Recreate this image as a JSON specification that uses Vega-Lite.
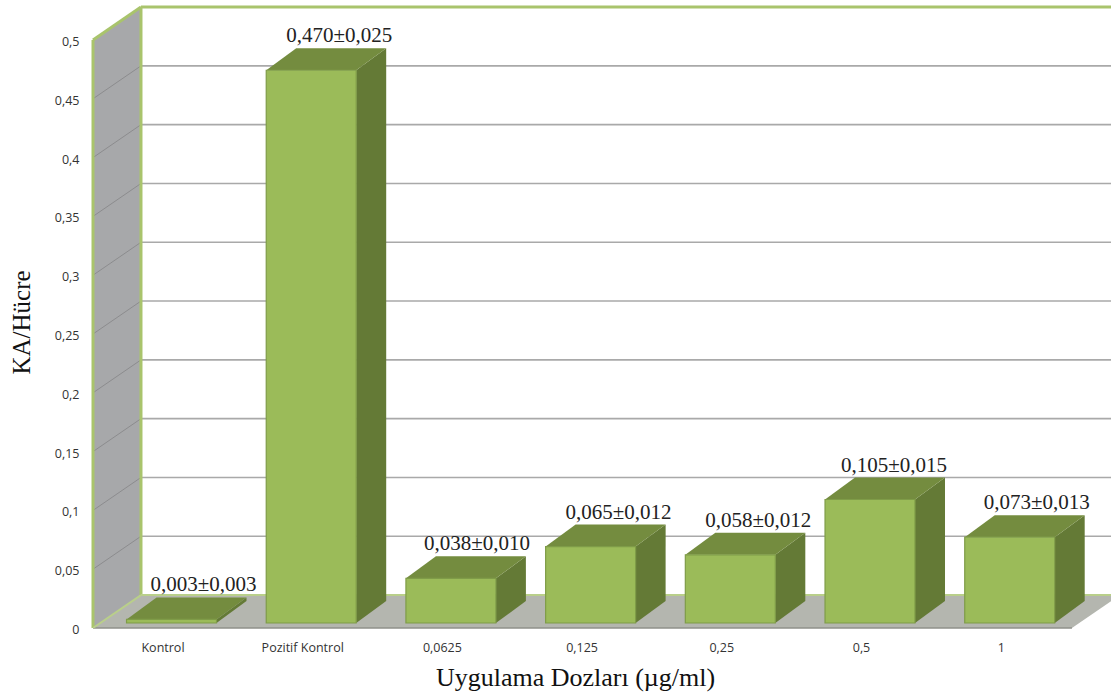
{
  "$schema": "https://vega.github.io/schema/vega-lite/v6.json",
  "width": 1018,
  "height": 628,
  "autosize": "none",
  "padding": {"left": 93, "top": 0, "right": 0, "bottom": 67},
  "background": "white",
  "config": {"view": {"stroke": null}},
  "datasets": {
    "doses": [
      {"dose": "Kontrol", "value": 0.003, "sd": 0.003, "label": "0,003±0,003"},
      {"dose": "Pozitif Kontrol", "value": 0.47, "sd": 0.025, "label": "0,470±0,025"},
      {"dose": "0,0625", "value": 0.038, "sd": 0.01, "label": "0,038±0,010"},
      {"dose": "0,125", "value": 0.065, "sd": 0.012, "label": "0,065±0,012"},
      {"dose": "0,25", "value": 0.058, "sd": 0.012, "label": "0,058±0,012"},
      {"dose": "0,5", "value": 0.105, "sd": 0.015, "label": "0,105±0,015"},
      {"dose": "1", "value": 0.073, "sd": 0.013, "label": "0,073±0,013"}
    ],
    "gridValues": [
      {"tick": 0.05}, {"tick": 0.1}, {"tick": 0.15}, {"tick": 0.2}, {"tick": 0.25},
      {"tick": 0.3}, {"tick": 0.35}, {"tick": 0.4}, {"tick": 0.45}
    ],
    "corners": [{"corner": 0}, {"corner": 1}, {"corner": 2}, {"corner": 3}]
  },
  "encoding": {
    "x": {
      "field": "x",
      "type": "quantitative",
      "scale": {"domain": [-0.4975, 6.7895], "nice": false, "zero": false},
      "axis": {
        "values": [0, 1, 2, 3, 4, 5, 6],
        "labelExpr": "['Kontrol','Pozitif Kontrol','0,0625','0,125','0,25','0,5','1'][datum.value]",
        "grid": false,
        "domain": false,
        "ticks": false,
        "labelFont": "Open Sans",
        "labelFontSize": 12.5,
        "labelColor": "#333333",
        "labelPadding": 13,
        "labelFlush": false,
        "title": "Uygulama Dozları (µg/ml)",
        "titleFont": "Liberation Serif",
        "titleFontSize": 26,
        "titleFontWeight": "normal",
        "titleColor": "#111111",
        "titleX": 482,
        "titleY": 36
      }
    },
    "y": {
      "field": "y",
      "type": "quantitative",
      "stack": null,
      "scale": {"domain": [0, 0.534], "nice": false, "zero": false},
      "axis": {
        "values": [0, 0.05, 0.1, 0.15, 0.2, 0.25, 0.3, 0.35, 0.4, 0.45, 0.5],
        "labelExpr": "replace(format(datum.value, '~g'), '.', ',')",
        "grid": false,
        "domain": false,
        "ticks": false,
        "labelFont": "Open Sans",
        "labelFontSize": 12.5,
        "labelColor": "#333333",
        "labelPadding": 14,
        "labelOffset": 1.5,
        "title": "KA/Hücre",
        "titleFont": "Liberation Serif",
        "titleFontSize": 25,
        "titleFontWeight": "normal",
        "titleColor": "#111111",
        "titleAngle": -90,
        "titleX": -59,
        "titleY": 322
      }
    }
  },
  "layer": [
    {
      "description": "Left wall of the 3D frame",
      "data": {"name": "corners"},
      "transform": [
        {"filter": "datum.corner < 2"},
        {"calculate": "[-0.4975, -0.154][datum.corner]", "as": "x"},
        {"calculate": "[0, 0.028][datum.corner]", "as": "y"},
        {"calculate": "[0.5, 0.528][datum.corner]", "as": "top"}
      ],
      "mark": {"type": "area", "orient": "vertical", "color": "#a7a8aa"},
      "encoding": {"y2": {"field": "top"}}
    },
    {
      "description": "Gridlines on the back wall",
      "data": {"name": "gridValues"},
      "transform": [
        {"calculate": "-0.154", "as": "x"},
        {"calculate": "6.7895", "as": "xEnd"},
        {"calculate": "datum.tick + 0.028", "as": "y"}
      ],
      "mark": {"type": "rule", "color": "#a9a9a9", "strokeWidth": 1.6},
      "encoding": {"x2": {"field": "xEnd"}}
    },
    {
      "description": "Gridlines running across the left wall",
      "data": {"name": "gridValues"},
      "transform": [
        {"calculate": "-0.4975", "as": "x"},
        {"calculate": "-0.154", "as": "xEnd"},
        {"calculate": "datum.tick", "as": "y"},
        {"calculate": "datum.tick + 0.028", "as": "yEnd"}
      ],
      "mark": {"type": "rule", "color": "#8c8c8e", "strokeWidth": 1},
      "encoding": {"x2": {"field": "xEnd"}, "y2": {"field": "yEnd"}}
    },
    {
      "description": "Floor of the 3D frame",
      "data": {"name": "corners"},
      "transform": [
        {"calculate": "[-0.4975, -0.154, 6.51, 6.854][datum.corner]", "as": "x"},
        {"calculate": "[0, 0, 0, 0.028][datum.corner]", "as": "y"},
        {"calculate": "[0, 0.028, 0.028, 0.028][datum.corner]", "as": "upper"}
      ],
      "mark": {"type": "area", "orient": "vertical", "color": "#b4b6af", "clip": true},
      "encoding": {"y2": {"field": "upper"}}
    },
    {
      "description": "Front edge of the floor",
      "data": {"name": "corners"},
      "transform": [
        {"filter": "datum.corner == 0"},
        {"calculate": "-0.4975", "as": "x"},
        {"calculate": "6.51", "as": "xEnd"},
        {"calculate": "0", "as": "y"}
      ],
      "mark": {"type": "rule", "color": "#8f918a", "strokeWidth": 1.6},
      "encoding": {"x2": {"field": "xEnd"}}
    },
    {
      "description": "Green outline of the frame: wall edges, wall top, back wall top",
      "data": {"name": "corners"},
      "transform": [
        {"calculate": "[-0.4975, -0.154, -0.154, -0.4975][datum.corner]", "as": "x"},
        {"calculate": "[-0.4975, -0.154, 6.7895, -0.154][datum.corner]", "as": "xEnd"},
        {"calculate": "[0, 0.028, 0.528, 0.5][datum.corner]", "as": "y"},
        {"calculate": "[0.5, 0.528, 0.528, 0.528][datum.corner]", "as": "yEnd"}
      ],
      "mark": {"type": "rule", "color": "#a9c46c", "strokeWidth": 3},
      "encoding": {"x2": {"field": "xEnd"}, "y2": {"field": "yEnd"}}
    },
    {
      "description": "Back edge and inner corner of the floor",
      "data": {"name": "corners"},
      "transform": [
        {"filter": "datum.corner < 2"},
        {"calculate": "[-0.4975, -0.154][datum.corner]", "as": "x"},
        {"calculate": "[-0.154, 6.7895][datum.corner]", "as": "xEnd"},
        {"calculate": "[0, 0.028][datum.corner]", "as": "y"},
        {"calculate": "0.028", "as": "yEnd"}
      ],
      "mark": {"type": "rule", "color": "#b9cf8a", "strokeWidth": 2},
      "encoding": {"x2": {"field": "xEnd"}, "y2": {"field": "yEnd"}}
    },
    {
      "description": "Right side face of each bar",
      "data": {"name": "doses"},
      "transform": [
        {"window": [{"op": "row_number", "as": "n"}]},
        {"calculate": "[0, 1]", "as": "corner"},
        {"flatten": ["corner"]},
        {"calculate": "datum.n - 1 + 0.0645 + 0.322 + datum.corner * 0.2148", "as": "x"},
        {"calculate": "0.00425 + datum.corner * 0.0187", "as": "y"},
        {"calculate": "0.00425 + datum.value + datum.corner * 0.0187", "as": "upper"}
      ],
      "mark": {"type": "area", "orient": "vertical", "color": "#647a36"},
      "encoding": {"y2": {"field": "upper"}, "detail": {"field": "dose"}}
    },
    {
      "description": "Top face of each bar",
      "data": {"name": "doses"},
      "transform": [
        {"window": [{"op": "row_number", "as": "n"}]},
        {"calculate": "[0, 1, 2, 3]", "as": "corner"},
        {"flatten": ["corner"]},
        {"calculate": "datum.n - 1 + 0.0645 - 0.322 + [0, 0.2148, 0.644, 0.8588][datum.corner]", "as": "x"},
        {"calculate": "0.00425 + datum.value + [0, 0, 0, 0.0187][datum.corner]", "as": "y"},
        {"calculate": "0.00425 + datum.value + [0, 0.0187, 0.0187, 0.0187][datum.corner]", "as": "upper"}
      ],
      "mark": {"type": "area", "orient": "vertical", "color": "#748c3f"},
      "encoding": {"y2": {"field": "upper"}, "detail": {"field": "dose"}}
    },
    {
      "description": "Front face of each bar",
      "data": {"name": "doses"},
      "transform": [
        {"window": [{"op": "row_number", "as": "n"}]},
        {"calculate": "datum.n - 1 + 0.0645 - 0.322", "as": "x"},
        {"calculate": "datum.n - 1 + 0.0645 + 0.322", "as": "xEnd"},
        {"calculate": "0.00425", "as": "y"},
        {"calculate": "0.00425 + datum.value", "as": "yEnd"}
      ],
      "mark": {"type": "rect", "color": "#9bbb59", "stroke": "#7f9c48", "strokeWidth": 1.2},
      "encoding": {"x2": {"field": "xEnd"}, "y2": {"field": "yEnd"}}
    },
    {
      "description": "Mean and spread written above each bar",
      "data": {"name": "doses"},
      "transform": [
        {"window": [{"op": "row_number", "as": "n"}]},
        {"calculate": "datum.n - 1 + 0.0645 + [0.229, 0.2, 0.186, 0.2, 0.2, 0.172, 0.193][datum.n - 1]", "as": "x"},
        {"calculate": "0.00425 + datum.value + 0.0187", "as": "y"}
      ],
      "mark": {
        "type": "text",
        "font": "Liberation Serif",
        "fontSize": 21,
        "color": "#222222",
        "align": "center",
        "baseline": "middle",
        "dy": -12
      },
      "encoding": {"text": {"field": "label"}}
    }
  ]
}
